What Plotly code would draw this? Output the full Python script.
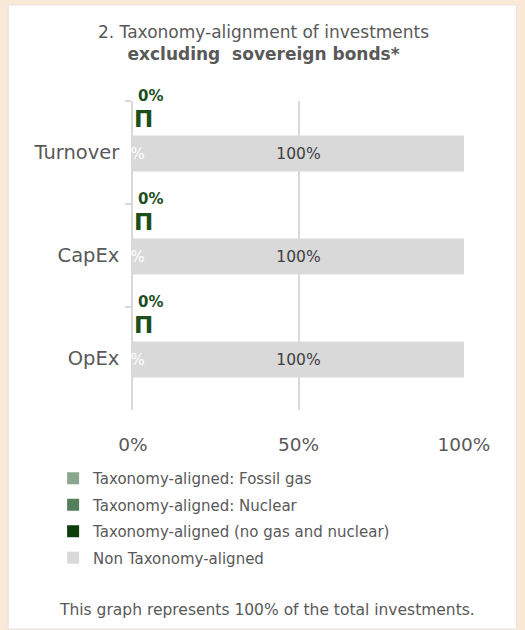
import plotly.graph_objects as go

# ---- data ----
categories = ["Turnover", "CapEx", "OpEx"]
fossil_gas = [0, 0, 0]
nuclear = [0, 0, 0]
aligned_no_gas_nuclear = [0, 0, 0]
non_aligned = [100, 100, 100]
x_tick_vals = [0, 50, 100]
x_tick_text = ["0%", "50%", "100%"]
series_names = [
    "Taxonomy-aligned: Fossil gas",
    "Taxonomy-aligned: Nuclear",
    "Taxonomy-aligned (no gas and nuclear)",
    "Non Taxonomy-aligned",
]
title_line1 = "2. Taxonomy-alignment of investments"
title_line2 = "excluding  sovereign bonds*"
footer = "This graph represents 100% of the total investments."

# ---- style ----
W, H = 525, 630
ML, MR, MT, MB = 133, 60.5, 101, 220
PW = W - ML - MR
PH = H - MT - MB
FONT = "DejaVu Sans"
GREY_TXT = "#595959"
colors = ["#8AA68D", "#557F5B", "#0B3D0B", "#D9D9D9"]
LABEL_GREEN = "#1D4F1D"


def px_x(px):
    return (px - ML) / PW


def px_y(py):
    return (H - MB - py) / PH


fig = go.Figure()

series = [fossil_gas, nuclear, aligned_no_gas_nuclear, non_aligned]
for i, (name, vals) in enumerate(zip(series_names, series)):
    if i == 3:
        fig.add_trace(go.Bar(
            y=categories, x=vals, orientation="h", name=name,
            marker=dict(color=colors[i], line=dict(width=0)),
            width=0.35, offset=-0.165,
            text=[f"{v:.0f}%" for v in vals], textposition="inside",
            insidetextanchor="middle",
            textfont=dict(family=FONT, size=15.5, color="#404040"),
            legendgroup=f"g{i}", hoverinfo="skip",
        ))
    else:
        fig.add_trace(go.Bar(
            y=categories, x=vals, orientation="h", name=name,
            marker=dict(color=colors[i], line=dict(width=0)),
            width=0.17, offset=-0.45,
            legendgroup=f"g{i}", hoverinfo="skip",
        ))

annotations = []
# label + marker glyph for the taxonomy-aligned (no gas and nuclear) series
for c, v in zip(categories, aligned_no_gas_nuclear):
    annotations.append(dict(
        x=v, y=c, xref="x", yref="y", text=f"<b>{v:.0f}%</b>",
        showarrow=False, xanchor="left", yanchor="middle", xshift=3, yshift=57,
        font=dict(family=FONT, size=15, color=LABEL_GREEN),
    ))
    annotations.append(dict(
        x=v, y=c, xref="x", yref="y", text="<b>\u03a0</b>",
        showarrow=False, xanchor="left", yanchor="middle", xshift=-1, yshift=33.5,
        font=dict(family=FONT, size=23, color=LABEL_GREEN),
    ))
# white labels (fossil gas) sitting on the grey bars
for c, v in zip(categories, fossil_gas):
    annotations.append(dict(
        x=v, y=c, xref="x", yref="y", text=f"{v:.0f}%",
        showarrow=False, xanchor="center", yanchor="middle", yshift=-1,
        font=dict(family=FONT, size=15, color="#FFFFFF"),
    ))

annotations += [
    dict(x=px_x(264), y=px_y(43.5), xref="paper", yref="paper",
         text=f"{title_line1}<br><b>{title_line2}</b>",
         showarrow=False, xanchor="center", yanchor="middle",
         font=dict(family=FONT, size=17, color=GREY_TXT)),
    dict(x=px_x(267), y=px_y(610), xref="paper", yref="paper", text=footer,
         showarrow=False, xanchor="center", yanchor="middle",
         font=dict(family=FONT, size=15.5, color=GREY_TXT)),
]

shapes = [dict(
    type="rect", xref="paper", yref="paper", layer="below",
    x0=px_x(8), x1=px_x(517), y0=px_y(629), y1=px_y(5),
    fillcolor="#FFFFFF", line=dict(color="#E3E3E3", width=1),
)]

fig.update_layout(
    width=W, height=H,
    margin=dict(l=ML, r=MR, t=MT, b=MB, pad=0),
    paper_bgcolor="#FBE9D8",
    plot_bgcolor="#FFFFFF",
    barmode="overlay",
    showlegend=True,
    legend=dict(
        x=px_x(53), y=px_y(462), xanchor="left", yanchor="top",
        orientation="v", traceorder="grouped", tracegroupgap=4,
        bgcolor="rgba(0,0,0,0)",
        font=dict(family=FONT, size=15, color=GREY_TXT),
        itemclick=False, itemdoubleclick=False,
    ),
    xaxis=dict(
        range=[0, 100], tickvals=x_tick_vals, ticktext=x_tick_text,
        showgrid=True, gridcolor="#D9D9D9", gridwidth=1.5,
        zeroline=False, showline=False, ticks="",
        ticklabelstandoff=21,
        tickfont=dict(family=FONT, size=18.5, color=GREY_TXT),
        fixedrange=True,
    ),
    yaxis=dict(
        type="category", range=[2.5, -0.5], autorange=False,
        showline=True, linecolor="#D9D9D9", linewidth=1.5,
        ticks="outside", ticklen=6, tickcolor="#D9D9D9", tickwidth=1.5,
        tickson="boundaries", showgrid=False,
        ticklabelstandoff=8,
        tickfont=dict(family=FONT, size=19.5, color=GREY_TXT),
        fixedrange=True,
    ),
    annotations=annotations,
    shapes=shapes,
)

fig.write_html(
    "out.html",
    config={"displayModeBar": False},
    post_script="document.body.style.margin='0';document.body.style.background='#FBE9D8';",
)
